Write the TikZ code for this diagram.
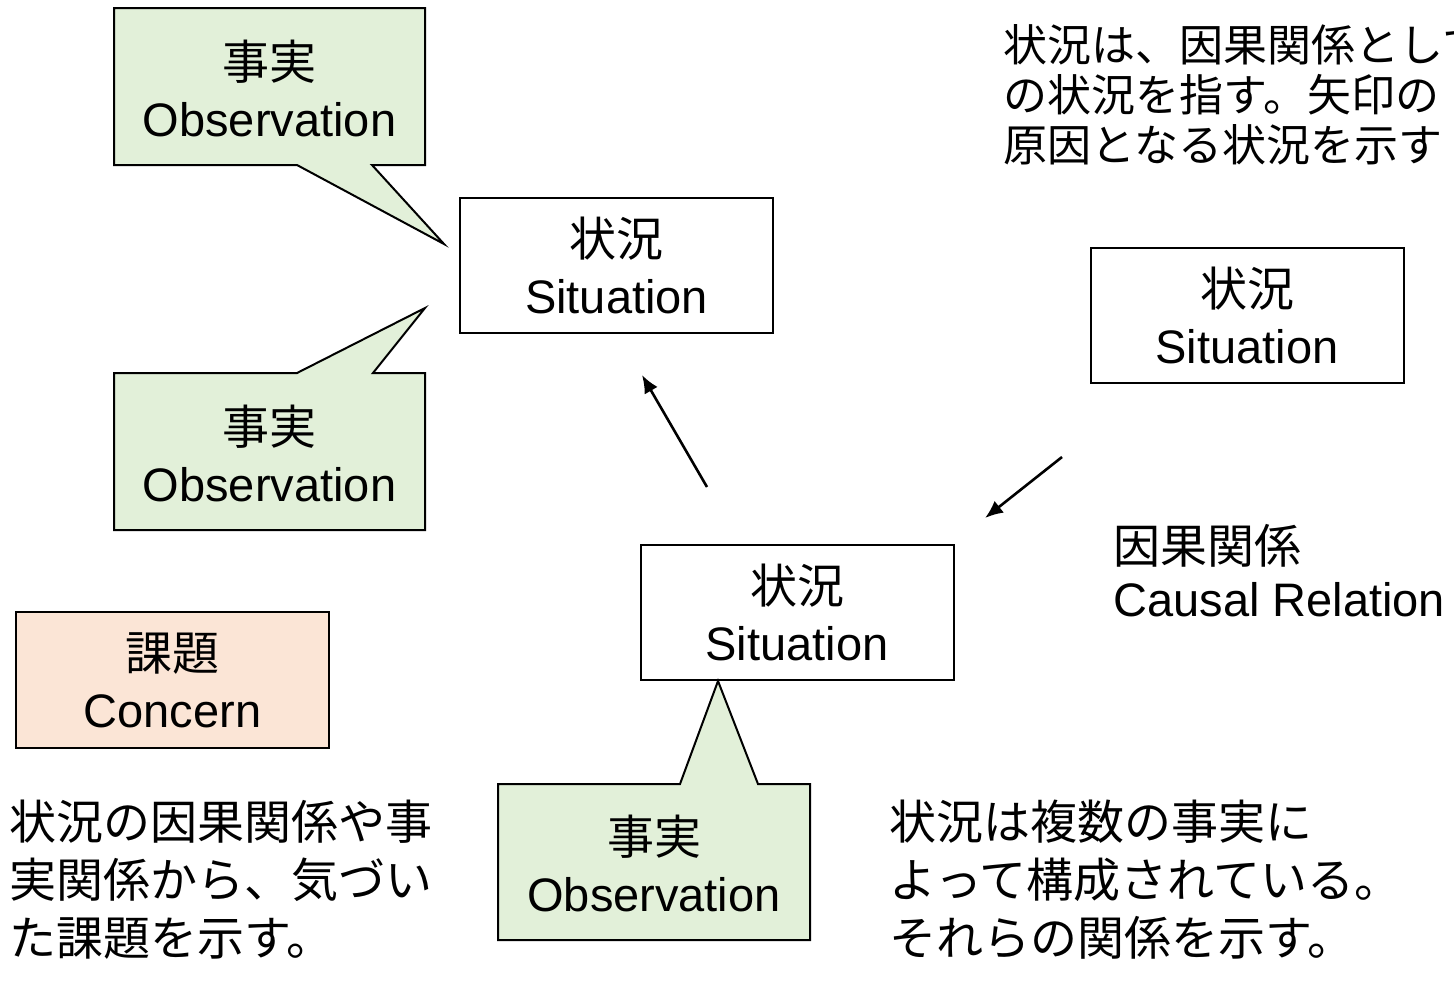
\documentclass[tikz,border=0pt]{standalone}
\usepackage{fontspec}
\setmainfont{Liberation Sans}
\newfontfamily\jp{Noto Sans CJK JP}
\usetikzlibrary{arrows.meta}
\definecolor{obsgreen}{HTML}{E2F0D9}
\definecolor{concernpeach}{HTML}{FBE5D6}
\tikzset{
  big/.style={font=\fontsize{23.5}{28.5}\selectfont},
  boxnode/.style={draw=black, line width=1pt, big, align=center, inner sep=0pt},
  sitbox/.style={boxnode, fill=white, minimum width=156.5pt, minimum height=67.5pt},
  concernbox/.style={boxnode, fill=concernpeach, minimum width=156.5pt, minimum height=68pt},
  callout/.style={draw=black, line width=1pt, fill=obsgreen, line join=miter},
  calltext/.style={big, align=center, inner sep=0pt},
  note/.style={inner sep=0pt, align=left, anchor=west},
  rel/.style={line width=1.3pt, -{Latex[length=9pt,width=7.5pt]}}
}
\begin{document}
\begin{tikzpicture}[x=0.5pt,y=-0.5pt]
\useasboundingbox (0,0) rectangle (1454,982);
\clip (0,0) rectangle (1454,982);

% situation boxes
\node[sitbox] (sit1) at (616.5,265.5) {{\jp 状況}\\Situation};
\node[sitbox] (sit2) at (797,612) {{\jp 状況}\\Situation};
\node[sitbox] (sit3) at (1247,315.5) {{\jp 状況}\\Situation};

% concern
\node[concernbox] (concern) at (172.5,680) {{\jp 課題}\\Concern};

% observation callouts
\coordinate (tip1) at (444,244);
\coordinate (tip2) at (425,308);
\coordinate (tip3) at (718,681);
\draw[callout] (114,8) -- (425,8) -- (425,165) -- (372,165) -- (tip1) -- (297,165) -- (114,165) -- cycle;
\draw[callout] (114,373) -- (297,373) -- (tip2) -- (373,373) -- (425,373) -- (425,530) -- (114,530) -- cycle;
\draw[callout] (498,784) -- (680,784) -- (tip3) -- (758,784) -- (810,784) -- (810,940) -- (498,940) -- cycle;
\node[calltext] (obs1) at (269.5,88) {{\jp 事実}\\Observation};
\node[calltext] (obs2) at (269.5,453) {{\jp 事実}\\Observation};
\node[calltext] (obs3) at (654,863) {{\jp 事実}\\Observation};

% causal arrows
\coordinate (a1s) at (707,487);
\coordinate (a1e) at (642,375);
\coordinate (a2s) at (1062,457);
\coordinate (a2e) at (985,518);
\draw[rel] (a1s) -- (a1e);
\draw[rel] (a2s) -- (a2e);

% labels
\node[note, font=\fontsize{23.5}{26.5}\selectfont] (causal) at (1113,571) {{\jp 因果関係}\\Causal Relation};
\node[note, font=\fontsize{22}{25}\selectfont] (toptext) at (1003,95) {\jp 状況は、因果関係として\\\jp の状況を指す。矢印の\\\jp 原因となる状況を示す};
\node[note, font=\fontsize{23.5}{29}\selectfont] (bltext) at (9,880) {\jp 状況の因果関係や事\\\jp 実関係から、気づい\\\jp た課題を示す。};
\node[note, font=\fontsize{23.5}{29}\selectfont] (brtext) at (889,880) {\jp 状況は複数の事実に\\\jp よって構成されている。\\\jp それらの関係を示す。};
\end{tikzpicture}
\end{document}
